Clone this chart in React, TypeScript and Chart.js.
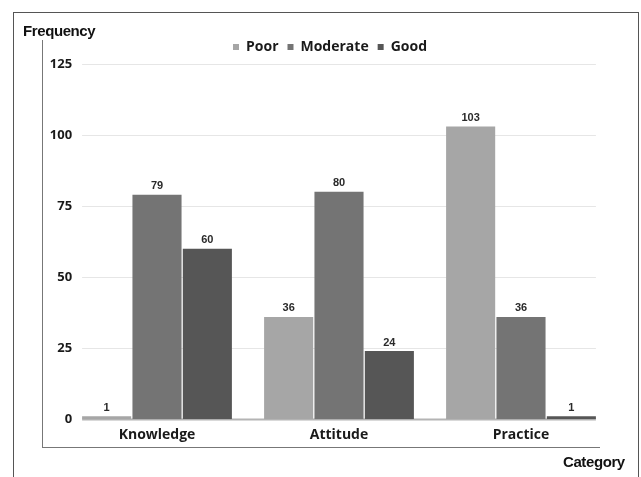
import React, { useEffect, useRef } from "react";
import { Chart, registerables } from "chart.js";

Chart.register(...registerables);

const categories = ["Knowledge", "Attitude", "Practice"];
const seriesNames = ["Poor", "Moderate", "Good"];
const poorValues = [1, 36, 103];
const moderateValues = [79, 80, 36];
const goodValues = [60, 24, 1];
const yTicks = [0, 25, 50, 75, 100, 125];
const colors = ["#a6a6a6", "#747474", "#565656"];

function barSpan(chart: any) {
  const first = chart.getDatasetMeta(0).data[0] as any;
  const lastMeta = chart.getDatasetMeta(chart.data.datasets.length - 1);
  const last = lastMeta.data[lastMeta.data.length - 1] as any;
  return { x1: first.x - first.width / 2, x2: last.x + last.width / 2 };
}

const gridPlugin = {
  id: "customGrid",
  beforeDatasetsDraw(chart: any) {
    const ctx = chart.ctx;
    const y = chart.scales.y;
    const { x1, x2 } = barSpan(chart);
    ctx.save();
    yTicks.forEach((v) => {
      const py = Math.round(y.getPixelForValue(v)) + 0.5;
      ctx.beginPath();
      ctx.strokeStyle = v === 0 ? "#b4b4b4" : "#e6e6e6";
      ctx.lineWidth = v === 0 ? 2 : 1;
      ctx.moveTo(x1, py);
      ctx.lineTo(x2, py);
      ctx.stroke();
    });
    ctx.restore();
  },
  afterDraw(chart: any) {
    const ctx = chart.ctx;
    const y = chart.scales.y;
    const { x1 } = barSpan(chart);
    ctx.save();
    ctx.font = "bold 13px 'Open Sans', sans-serif";
    ctx.fillStyle = "#1a1a1a";
    ctx.textAlign = "right";
    ctx.textBaseline = "middle";
    yTicks.forEach((v) => {
      ctx.fillText(String(v), x1 - 10, y.getPixelForValue(v));
    });
    ctx.restore();
  },
};

const valueLabelPlugin = {
  id: "valueLabels",
  afterDatasetsDraw(chart: any) {
    const ctx = chart.ctx;
    ctx.save();
    ctx.font = "bold 11px 'Liberation Sans', Arial, sans-serif";
    ctx.fillStyle = "#2a2a2a";
    ctx.textAlign = "center";
    ctx.textBaseline = "bottom";
    chart.data.datasets.forEach((ds: any, i: number) => {
      const meta = chart.getDatasetMeta(i);
      meta.data.forEach((bar: any, j: number) => {
        ctx.fillText(String(ds.data[j]), bar.x, bar.y - 3);
      });
    });
    ctx.restore();
  },
};

const legendShiftPlugin = {
  id: "legendShift",
  afterLayout(chart: any) {
    const lg = chart.legend;
    if (lg) {
      lg.left -= 9;
      lg.right -= 9;
    }
  },
};

export default function App() {
  const ref = useRef<HTMLCanvasElement | null>(null);
  useEffect(() => {
    document.body.style.margin = "0";
    const canvas = ref.current!;
    const values = [poorValues, moderateValues, goodValues];
    const chart = new Chart(canvas, {
      type: "bar",
      data: {
        labels: categories,
        datasets: seriesNames.map((name, i) => ({
          label: name,
          data: values[i],
          backgroundColor: colors[i],
          borderWidth: 0,
          categoryPercentage: 0.83,
          barPercentage: 0.975,
        })),
      },
      options: {
        animation: false,
        responsive: false,
        maintainAspectRatio: false,
        layout: { padding: { left: 66, right: 29, top: 31, bottom: 27 } },
        plugins: {
          legend: {
            display: true,
            position: "top",
            labels: {
              usePointStyle: true,
              pointStyle: "rect",
              boxWidth: 6,
              boxHeight: 6,
              padding: 9,
              color: "#1a1a1a",
              font: { family: "'Open Sans', sans-serif", size: 14, weight: "bold" },
            },
          },
          tooltip: { enabled: false },
        },
        scales: {
          x: {
            grid: { display: false, drawTicks: false },
            border: { display: false },
            ticks: {
              padding: 7,
              color: "#1a1a1a",
              font: { family: "'Open Sans', sans-serif", size: 14, weight: "bold" },
            },
          },
          y: {
            min: 0,
            max: 125,
            grid: { display: false, drawTicks: false },
            border: { display: false },
            ticks: { display: false, stepSize: 25 },
          },
        },
      },
      plugins: [gridPlugin, valueLabelPlugin, legendShiftPlugin],
    });
    return () => chart.destroy();
  }, []);

  const axisTitle: React.CSSProperties = {
    position: "absolute",
    fontFamily: "'Liberation Sans', Arial, sans-serif",
    fontWeight: "bold",
    fontSize: 15,
    letterSpacing: "-0.4px",
    color: "#111",
    whiteSpace: "nowrap",
    lineHeight: "18px",
  };

  return (
    <div style={{ position: "relative", width: 641, height: 477, overflow: "hidden", background: "#fff" }}>
      <canvas ref={ref} width={641} height={477} style={{ position: "absolute", left: 0, top: 0 }} />
      <div style={{ position: "absolute", left: 13, top: 12, width: 624, height: 520, border: "1px solid #555" }} />
      <div
        style={{
          position: "absolute",
          left: 42,
          top: 40,
          width: 557,
          height: 407,
          borderLeft: "1.5px solid #777",
          borderBottom: "1.5px solid #777",
        }}
      />
      <div style={{ ...axisTitle, left: 23, top: 22 }}>Frequency</div>
      <div style={{ ...axisTitle, left: 563, top: 453 }}>Category</div>
    </div>
  );
}
